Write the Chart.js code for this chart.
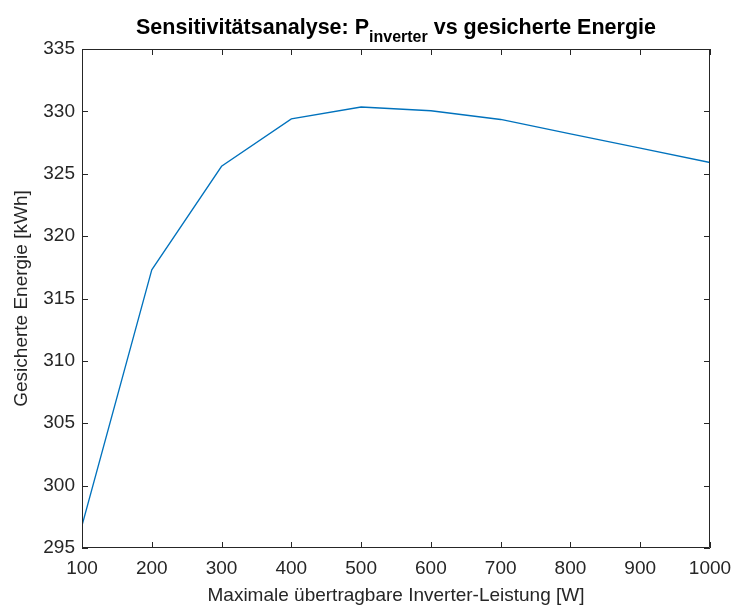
<!DOCTYPE html>
<html>
<head>
<meta charset="utf-8">
<script src="https://cdn.jsdelivr.net/npm/chart.js@4/dist/chart.umd.min.js"></script>
<style>
  html, body { margin: 0; padding: 0; background: #fff; }
  #c { display: block; }
</style>
</head>
<body>
<canvas id="c" width="733" height="608"></canvas>
<script>
// Daten aus der Sensitivitätsanalyse
const leistung = [100, 200, 300, 400, 500, 600, 700, 800, 900, 1000];
const energie = [296.8, 317.3, 325.6, 329.4, 330.35, 330.05, 329.35, 328.2, 327.05, 325.9];
const xTicks = [100, 200, 300, 400, 500, 600, 700, 800, 900, 1000];
const yTicks = [295, 300, 305, 310, 315, 320, 325, 330, 335];

const FONT = '"Liberation Sans", Arial, Helvetica, sans-serif';
const TEXT = '#262626';

// MATLAB-artiger Rahmen mit Ticks nach innen auf allen vier Seiten
const boxPlugin = {
    id: 'matlabBox',
    afterDatasetsDraw(chart) {
        const { ctx, chartArea: a, scales } = chart;
        const len = 6;
        ctx.save();
        ctx.strokeStyle = TEXT;
        ctx.lineWidth = 1;
        ctx.beginPath();
        ctx.rect(a.left + 0.5, a.top + 0.5, a.right - a.left - 1, a.bottom - a.top - 1);
        xTicks.forEach(v => {
            const px = Math.round(scales.x.getPixelForValue(v)) + 0.5;
            ctx.moveTo(px, a.bottom); ctx.lineTo(px, a.bottom - len);
            ctx.moveTo(px, a.top); ctx.lineTo(px, a.top + len);
        });
        yTicks.forEach(v => {
            const py = Math.round(scales.y.getPixelForValue(v)) + 0.5;
            ctx.moveTo(a.left, py); ctx.lineTo(a.left + len, py);
            ctx.moveTo(a.right, py); ctx.lineTo(a.right - len, py);
        });
        ctx.stroke();
        ctx.restore();
    }
};

// Titel mit tiefgestelltem "inverter"
const titlePlugin = {
    id: 'subTitle',
    afterDraw(chart) {
        const { ctx, chartArea: a } = chart;
        const main = 'bold 21.5px ' + FONT;
        const sub = 'bold 16px ' + FONT;
        const parts = [
            ['Sensitivitätsanalyse: P', main, 0],
            ['inverter', sub, 8],
            [' vs gesicherte Energie', main, 0]
        ];
        ctx.save();
        let total = 0;
        parts.forEach(p => { ctx.font = p[1]; total += ctx.measureText(p[0]).width; });
        let x = (a.left + a.right) / 2 - total / 2;
        const base = 34;
        ctx.fillStyle = '#000';
        ctx.textBaseline = 'alphabetic';
        ctx.textAlign = 'left';
        parts.forEach(p => {
            ctx.font = p[1];
            ctx.fillText(p[0], x, base + p[2]);
            x += ctx.measureText(p[0]).width;
        });
        ctx.restore();
    }
};

new Chart(document.getElementById('c'), {
    type: 'line',
    data: {
        datasets: [{
            data: leistung.map((x, i) => ({ x: x, y: energie[i] })),
            borderColor: '#0072BD',
            borderWidth: 1.3,
            pointRadius: 0,
            tension: 0,
            fill: false
        }]
    },
    options: {
        responsive: false,
        animation: false,
        layout: { padding: { top: 49, right: 23, left: 0, bottom: 0 } },
        plugins: { legend: { display: false }, tooltip: { enabled: false } },
        scales: {
            x: {
                type: 'linear',
                min: 100,
                max: 1000,
                afterBuildTicks: s => { s.ticks = xTicks.map(v => ({ value: v })); },
                afterFit: s => { s.height = 60; s.paddingLeft = 0; s.paddingRight = 0; },
                grid: { display: false, drawTicks: false },
                border: { display: false },
                ticks: { color: TEXT, font: { family: FONT, size: 19 }, padding: 9, maxRotation: 0, callback: v => String(v) },
                title: {
                    display: true,
                    text: 'Maximale übertragbare Inverter-Leistung [W]',
                    color: TEXT,
                    font: { family: FONT, size: 19 },
                    padding: { top: 0, bottom: 1 }
                }
            },
            y: {
                min: 295,
                max: 335,
                afterBuildTicks: s => { s.ticks = yTicks.map(v => ({ value: v })); },
                afterFit: s => { s.width = 82; s.paddingTop = 0; s.paddingBottom = 0; },
                grid: { display: false, drawTicks: false },
                border: { display: false },
                ticks: { color: TEXT, font: { family: FONT, size: 19 }, padding: 7, callback: v => String(v) },
                title: {
                    display: true,
                    text: 'Gesicherte Energie [kWh]',
                    color: TEXT,
                    font: { family: FONT, size: 19 },
                    padding: { top: 10, bottom: 0 }
                }
            }
        }
    },
    plugins: [boxPlugin, titlePlugin]
});
</script>
</body>
</html>
